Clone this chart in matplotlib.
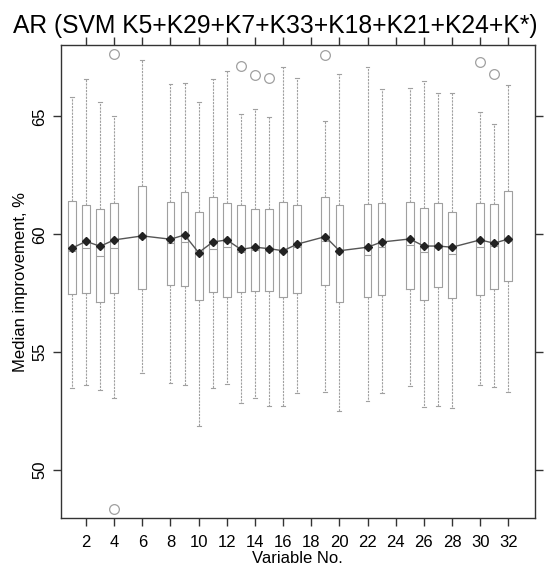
import numpy as np
import matplotlib
matplotlib.use("Agg")
import matplotlib.pyplot as plt

plt.rcParams['font.family'] = ['Liberation Sans', 'DejaVu Sans']

# variables kept in the model (5, 7, 18, 21, 24, 29 removed)
variables = [1, 2, 3, 4, 6, 8, 9, 10, 11, 12, 13, 14, 15, 16, 17, 19, 20,
             22, 23, 25, 26, 27, 28, 30, 31, 32]
whisker_hi = [65.84, 66.59, 65.63, 65.02, 67.40, 66.37, 66.41, 65.60, 66.59,
              66.94, 65.09, 65.33, 64.98, 67.09, 66.65, 64.80, 66.79, 67.09,
              66.17, 66.22, 66.49, 65.98, 65.98, 65.19, 64.68, 66.34]
q3 = [61.41, 61.23, 61.06, 61.32, 62.05, 61.37, 61.81, 60.96, 61.57, 61.32,
      61.26, 61.06, 61.06, 61.36, 61.23, 61.57, 61.23, 61.27, 61.34, 61.36,
      61.12, 61.32, 60.96, 61.32, 61.27, 61.85]
medians = [59.30, 59.40, 59.09, 59.41, 59.85, 59.62, 59.67, 59.15, 59.36,
           59.47, 59.25, 59.35, 59.30, 59.25, 59.45, 59.70, 59.25, 59.11,
           59.45, 59.56, 59.25, 59.40, 59.15, 59.45, 59.50, 59.70]
q1 = [57.47, 57.50, 57.13, 57.52, 57.68, 57.85, 57.80, 57.21, 57.54, 57.35,
      57.54, 57.59, 57.59, 57.35, 57.50, 57.85, 57.11, 57.35, 57.41, 57.68,
      57.21, 57.75, 57.28, 57.41, 57.68, 58.03]
whisker_lo = [53.46, 53.60, 53.39, 53.06, 54.10, 53.70, 53.62, 51.86, 53.46,
              53.66, 52.85, 53.06, 52.71, 52.71, 53.25, 53.32, 52.50, 52.91,
              53.25, 53.56, 52.67, 52.71, 52.61, 53.62, 53.52, 53.32]
means = [59.41, 59.70, 59.49, 59.76, 59.93, 59.79, 59.97, 59.22, 59.67, 59.76,
         59.36, 59.45, 59.39, 59.30, 59.58, 59.90, 59.30, 59.45, 59.67, 59.80,
         59.50, 59.50, 59.45, 59.76, 59.62, 59.80]
outliers = {4: [67.65, 48.33], 13: [67.16], 14: [66.76], 15: [66.65],
            19: [67.61], 30: [67.30], 31: [66.82]}

stats = []
for i, v in enumerate(variables):
    stats.append(dict(whishi=whisker_hi[i], q3=q3[i], med=medians[i],
                      q1=q1[i], whislo=whisker_lo[i], fliers=outliers.get(v, [])))

fig = plt.figure(figsize=(5.44, 5.72), dpi=100)
ax = fig.add_axes([0.1116, 0.0944, 0.8719, 0.8269])

gray = '#a0a0a0'
ax.bxp(stats, positions=variables, widths=0.55, showfliers=True,
       boxprops=dict(color=gray, linewidth=0.8),
       whiskerprops=dict(color=gray, linewidth=0.8, linestyle=(0, (2, 1))),
       capprops=dict(color=gray, linewidth=0.8),
       medianprops=dict(color=gray, linewidth=0.8),
       flierprops=dict(marker='o', markerfacecolor='none', markeredgecolor=gray,
                       markersize=7, markeredgewidth=0.9))

ax.plot(variables, means, color='#555555', linewidth=1.0, zorder=3)
ax.plot(variables, means, linestyle='none', marker='D', markersize=4.5,
        color='#222222', zorder=4)

ax.set_xlim(0.2, 33.9)
ax.set_ylim(47.96, 68.03)
xt = list(range(2, 33, 2))
ax.set_xticks(xt)
ax.set_xticklabels([str(t) for t in xt], fontsize=12)
ax.set_yticks([50, 55, 60, 65])
ax.set_yticklabels(['50', '55', '60', '65'], fontsize=12, rotation=90, va='center')
ax.tick_params(direction='out', length=6, width=1.0, top=True, right=True,
               color='#333333')
ax.tick_params(axis='x', pad=6)
for s in ax.spines.values():
    s.set_color('#333333')
    s.set_linewidth(1.0)

ax.set_xlabel('Variable No.', fontsize=12, labelpad=1)
ax.set_ylabel('Median improvement, %', fontsize=12, labelpad=3)
fig.text(0.024, 0.955, 'AR (SVM K5+K29+K7+K33+K18+K21+K24+K*)', fontsize=17.7,
         ha='left', va='center')

fig.savefig('out.png', dpi=100)
